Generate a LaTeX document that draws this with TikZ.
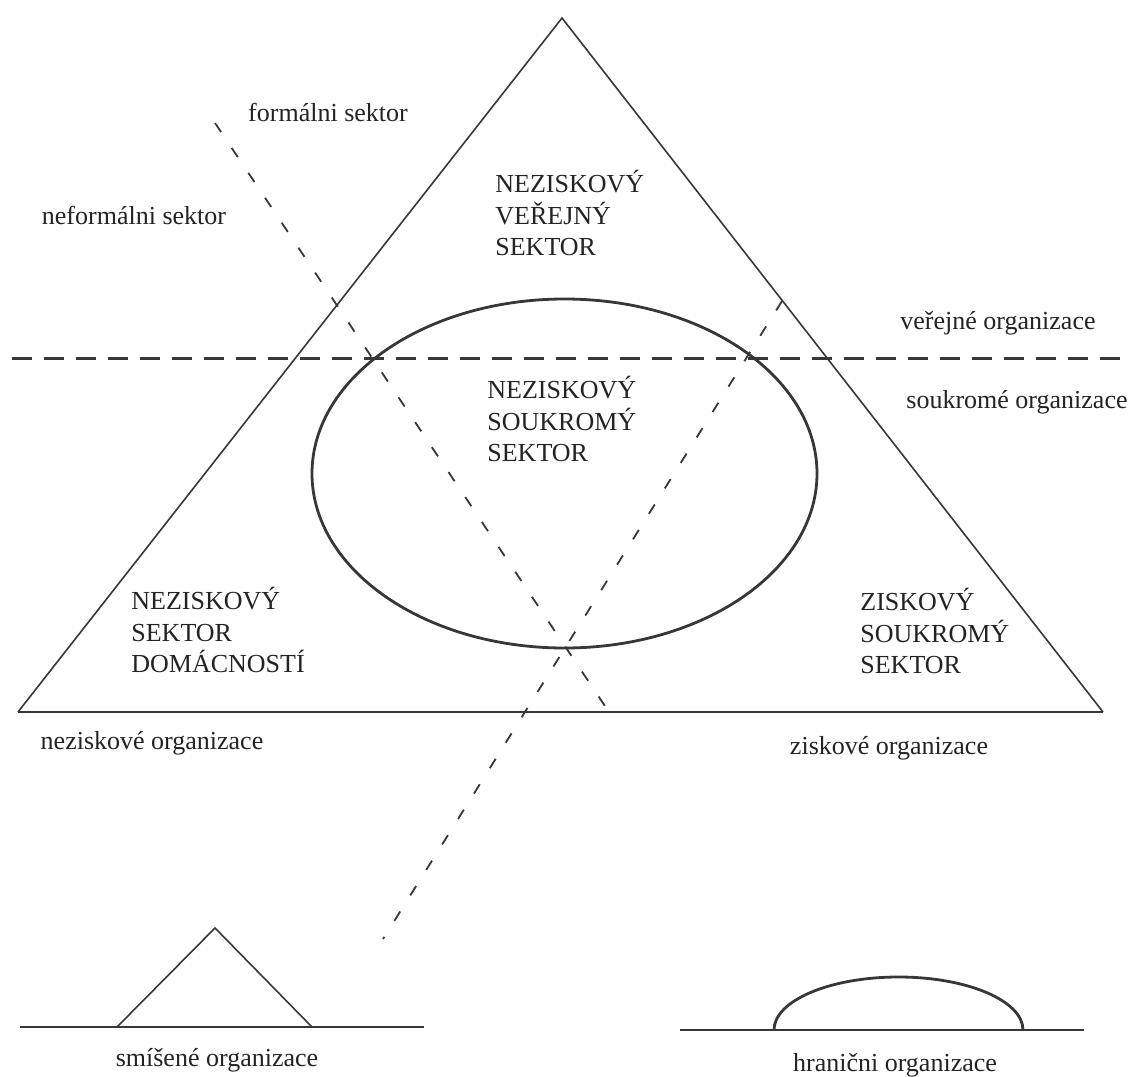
\documentclass[tikz,border=0pt]{standalone}
\usepackage{fontspec}
\setmainfont{Liberation Serif}
\definecolor{linec}{RGB}{55,55,55}
\definecolor{txtc}{RGB}{35,35,35}
\begin{document}
\begin{tikzpicture}[x=0.5pt,y=-0.5pt,
  thinline/.style={draw=linec, line width=0.8pt},
  thickline/.style={draw=linec, line width=1.4pt},
  lbl/.style={font=\fontsize{13}{15.6}\selectfont, text=txtc, inner sep=0pt},
  blk/.style={lbl, align=left, anchor=west},
  hdash/.style={draw=linec, line width=1.5pt, dash pattern=on 10pt off 6pt},
  sdash/.style={draw=linec, line width=0.9pt, dash pattern=on 5.5pt off 9.5pt}]
\useasboundingbox (0,0) rectangle (1132,1077);
% main triangle
\coordinate (apex) at (562,18);
\coordinate (bl) at (18,712);
\coordinate (br) at (1103,712);
\draw[thinline] (bl) -- (apex) -- (br);
\draw[thickline] (bl) -- (br);
% ellipse
\coordinate (ec) at (564.5,473.5);
\draw[thickline] (ec) ellipse [x radius=252.5, y radius=174.5];
% dashed lines
\coordinate (hl) at (12,358);
\coordinate (hr) at (1136,358);
\draw[hdash] (hl) -- (hr);
\coordinate (fa) at (215,123);
\coordinate (fb) at (609,712);
\draw[sdash] (fa) -- (fb);
\coordinate (ma) at (782,301);
\coordinate (mb) at (383,939);
\draw[sdash] (ma) -- (mb);
% bottom left: mixed
\coordinate (sl) at (20,1027);
\coordinate (sr) at (424,1027);
\coordinate (ta) at (117,1027);
\coordinate (tb) at (215,928);
\coordinate (tc) at (312,1027);
\draw[thickline] (sl) -- (sr);
\draw[thinline] (ta) -- (tb) -- (tc);
% bottom right: boundary
\coordinate (hl2) at (680,1030);
\coordinate (hr2) at (1084,1030);
\coordinate (ha) at (774,1030);
\draw[thickline] (hl2) -- (hr2);
\draw[thickline] (ha) arc[start angle=180, end angle=360, x radius=124.5, y radius=53];
% sector blocks
\node[blk] (nvs) at (495,213) {NEZISKOVÝ\\VEŘEJNÝ\\SEKTOR};
\node[blk] (nss) at (487,419) {NEZISKOVÝ\\SOUKROMÝ\\SEKTOR};
\node[blk] (nsd) at (131,630) {NEZISKOVÝ\\SEKTOR\\DOMÁCNOSTÍ};
\node[blk] (zss) at (860,631) {ZISKOVÝ\\SOUKROMÝ\\SEKTOR};
% labels
\node[lbl] (formal) at (328,112) {formálni sektor};
\node[lbl] (neformal) at (134,215) {neformálni sektor};
\node[lbl] (verejne) at (998,323) {veřejné organizace};
\node[lbl] (soukrome) at (1017,402) {soukromé organizace};
\node[lbl] (nezisk) at (152,743) {neziskové organizace};
\node[lbl] (zisk) at (889,748) {ziskové organizace};
\node[lbl] (smisene) at (217,1060) {smíšené organizace};
\node[lbl] (hranicni) at (895,1065) {hranični organizace};
\end{tikzpicture}
\end{document}
